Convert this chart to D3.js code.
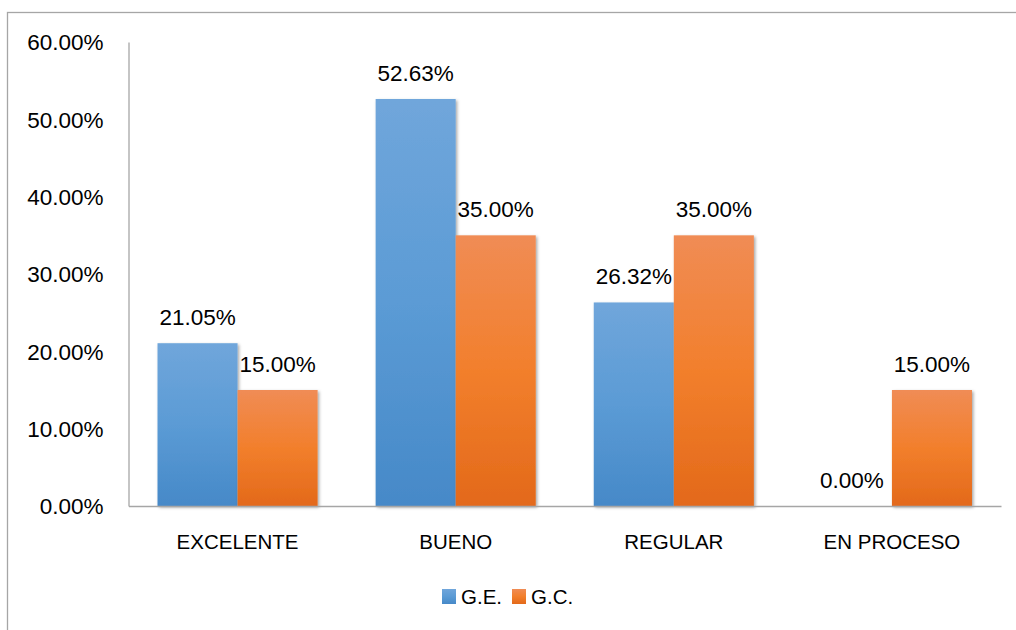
<!DOCTYPE html>
<html>
<head>
<meta charset="utf-8">
<script src="https://cdn.jsdelivr.net/npm/d3@7"></script>
<style>
    body { margin: 0; background: #fff; }
    svg { display: block; }
    .num { font-family: "Liberation Sans", Arial, sans-serif; font-size: 22.5px; fill: #000; }
    .word { font-family: "Liberation Sans", Arial, sans-serif; font-size: 20.5px; fill: #000; }
</style>
</head>
<body>
<svg id="chart" width="1016" height="630"></svg>
<script>
// chart data
const categories = ['EXCELENTE', 'BUENO', 'REGULAR', 'EN PROCESO'];
const series = ['G.E.', 'G.C.'];
const valuesGE = [0.2105, 0.5263, 0.2632, 0.0];
const valuesGC = [0.15, 0.35, 0.35, 0.15];
const yTicks = [0, 0.1, 0.2, 0.3, 0.4, 0.5, 0.6];

const width = 1016, height = 630;
const plot = {left: 128.5, right: 1001, top: 42, bottom: 506};

const svg = d3.select('#chart');

// gradients + shadow like the office style
const defs = svg.append('defs');
const grads = {
    'G.E.': ['#70a6db', '#5b9bd5', '#4689c8'],
    'G.C.': ['#f08c55', '#f27f2c', '#e3691a']
};
series.forEach((s, i) => {
    const g = defs.append('linearGradient')
        .attr('id', 'grad' + i)
        .attr('x1', 0).attr('y1', 0).attr('x2', 0).attr('y2', 1);
    g.append('stop').attr('offset', '0%').attr('stop-color', grads[s][0]);
    g.append('stop').attr('offset', '50%').attr('stop-color', grads[s][1]);
    g.append('stop').attr('offset', '100%').attr('stop-color', grads[s][2]);
});
const shadow = defs.append('filter').attr('id', 'shadow')
    .attr('x', '-10%').attr('y', '-10%').attr('width', '130%').attr('height', '120%');
shadow.append('feDropShadow')
    .attr('dx', 1.5).attr('dy', 1.5).attr('stdDeviation', 1.5)
    .attr('flood-color', '#000').attr('flood-opacity', 0.35);

// outer chart border
svg.append('rect')
    .attr('x', 7.5).attr('y', 12.5)
    .attr('width', 1020).attr('height', 640)
    .style('fill', 'none')
    .style('stroke', '#a6a6a6')
    .style('stroke-width', 1.3);

// scales
const x0 = d3.scaleBand().domain(categories).range([plot.left, plot.right]).padding(0);
const gap = x0.bandwidth() * 58 / 218;
const x1 = d3.scaleBand().domain(series).range([gap / 2, x0.bandwidth() - gap / 2]).padding(0);
const y = d3.scaleLinear().domain([0, 0.6]).range([plot.bottom, plot.top]);
const fmt = d3.format('.2%');

// y axis
const yAxis = svg.append('g')
    .attr('transform', `translate(${plot.left}, 0)`)
    .call(d3.axisLeft(y).tickValues(yTicks).tickFormat(fmt).tickSize(0).tickPadding(25));
yAxis.select('.domain').style('stroke', '#a6a6a6').style('stroke-width', 1.3);
yAxis.selectAll('text').attr('class', 'num').attr('dy', '0.35em');

// bars
const rows = categories.map((c, i) => ({cat: c, vals: [valuesGE[i], valuesGC[i]]}));

const groups = svg.append('g').selectAll('g')
    .data(rows)
    .enter()
    .append('g')
    .attr('transform', d => `translate(${x0(d.cat)}, 0)`);

groups.selectAll('rect')
    .data(d => d.vals.map((v, i) => ({s: series[i], i: i, v: v})))
    .enter()
    .append('rect')
    .filter(d => d.v > 0)
    .attr('x', d => x1(d.s))
    .attr('y', d => y(d.v))
    .attr('width', x1.bandwidth())
    .attr('height', d => y(0) - y(d.v))
    .style('fill', d => `url(#grad${d.i})`)
    .style('filter', 'url(#shadow)');

// data labels
groups.selectAll('text')
    .data(d => d.vals.map((v, i) => ({s: series[i], v: v})))
    .enter()
    .append('text')
    .attr('class', 'num')
    .attr('x', d => x1(d.s) + x1.bandwidth() / 2)
    .attr('y', d => y(d.v) - 18)
    .attr('text-anchor', 'middle')
    .text(d => fmt(d.v));

// x axis
const xAxis = svg.append('g')
    .attr('transform', `translate(0, ${plot.bottom})`)
    .call(d3.axisBottom(x0).tickSize(0).tickPadding(36));
xAxis.select('.domain').style('stroke', '#a6a6a6').style('stroke-width', 1.3);
xAxis.selectAll('text').attr('class', 'word').attr('dy', '0.35em');

// legend
const legend = svg.append('g').attr('transform', 'translate(442, 597)');
const legendX = [0, 70];
series.forEach((s, i) => {
    const item = legend.append('g').attr('transform', `translate(${legendX[i]}, 0)`);
    item.append('rect')
        .attr('x', 0).attr('y', -8)
        .attr('width', 14).attr('height', 15)
        .style('fill', `url(#grad${i})`);
    item.append('text')
        .attr('class', 'word')
        .attr('x', 19).attr('y', 0)
        .attr('dy', '0.35em')
        .text(s);
});
</script>
</body>
</html>
